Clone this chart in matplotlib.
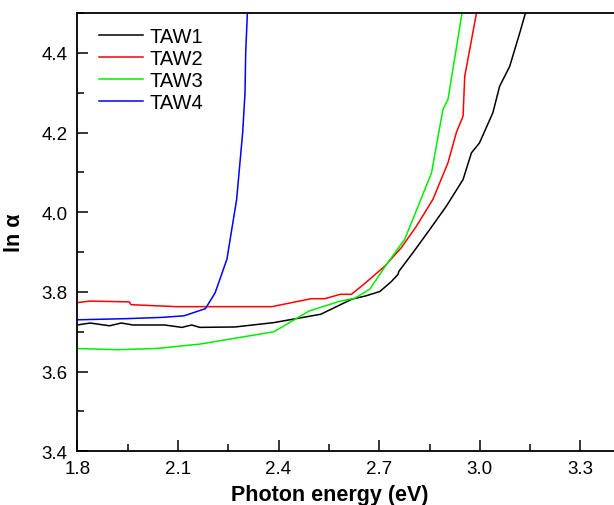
import matplotlib
matplotlib.use('Agg')
import matplotlib.pyplot as plt
from matplotlib.ticker import MultipleLocator

plt.rcParams['font.family'] = ['Liberation Sans', 'DejaVu Sans']

# TAW1 (black)
x1 = [1.80, 1.838, 1.896, 1.931, 1.966, 2.06, 2.112, 2.141, 2.165, 2.27, 2.386, 2.526,
      2.619, 2.66, 2.702, 2.735, 2.756, 2.759, 2.801, 2.851, 2.90, 2.95, 2.975, 2.999,
      3.039, 3.059, 3.089, 3.119, 3.136]
y1 = [3.717, 3.722, 3.715, 3.722, 3.717, 3.717, 3.711, 3.717, 3.711, 3.712, 3.723, 3.744,
      3.782, 3.790, 3.801, 3.825, 3.844, 3.852, 3.899, 3.957, 4.015, 4.082, 4.149, 4.174,
      4.25, 4.316, 4.366, 4.45, 4.50]

# TAW2 (red)
x2 = [1.80, 1.838, 1.955, 1.96, 2.095, 2.38, 2.497, 2.538, 2.584, 2.617, 2.654, 2.717,
      2.766, 2.811, 2.86, 2.905, 2.93, 2.95, 2.955, 2.99]
y2 = [3.773, 3.777, 3.775, 3.768, 3.763, 3.763, 3.783, 3.783, 3.794, 3.794, 3.819, 3.865,
      3.911, 3.965, 4.032, 4.124, 4.20, 4.241, 4.341, 4.50]

# TAW3 (green)
x3 = [1.80, 1.92, 2.036, 2.165, 2.386, 2.491, 2.584, 2.627, 2.672, 2.726, 2.776, 2.816,
      2.856, 2.89, 2.905, 2.947]
y3 = [3.658, 3.655, 3.658, 3.669, 3.700, 3.752, 3.777, 3.784, 3.807, 3.874, 3.932, 4.015,
      4.099, 4.258, 4.283, 4.50]

# TAW4 (blue)
x4 = [1.80, 1.95, 2.05, 2.118, 2.182, 2.211, 2.246, 2.275, 2.293, 2.30, 2.302, 2.307]
y4 = [3.730, 3.733, 3.736, 3.740, 3.758, 3.798, 3.882, 4.032, 4.20, 4.30, 4.40, 4.50]

labels = ['TAW1', 'TAW2', 'TAW3', 'TAW4']
colors = ['black', 'red', '#00ee00', 'blue']

fig = plt.figure(figsize=(6.14, 5.06), dpi=100)
ax = fig.add_axes([77.3 / 614, 53.7 / 506, 1 - 77.3 / 614, 438.3 / 506])

for xs, ys, lab, c in zip([x1, x2, x3, x4], [y1, y2, y3, y4], labels, colors):
    ax.plot(xs, ys, color=c, lw=1.1, label=lab)

ax.set_xlim(1.8, 3.4)
ax.set_ylim(3.4, 4.5)
ax.xaxis.set_major_locator(MultipleLocator(0.3))
ax.xaxis.set_minor_locator(MultipleLocator(0.15))
ax.yaxis.set_major_locator(MultipleLocator(0.2))
ax.yaxis.set_minor_locator(MultipleLocator(0.1))
ax.xaxis.set_major_formatter(matplotlib.ticker.FormatStrFormatter('%.1f'))
ax.yaxis.set_major_formatter(matplotlib.ticker.FormatStrFormatter('%.1f'))

ax.tick_params(which='major', direction='in', length=8, width=1.1, labelsize=13.5,
               top=False, right=False)
ax.tick_params(which='minor', direction='in', length=5, width=1.1, top=False, right=False)
ax.tick_params(axis='x', pad=6)
ax.tick_params(axis='y', pad=7)
ax.spines['right'].set_visible(False)
for s in ['left', 'bottom', 'top']:
    ax.spines[s].set_linewidth(1.3)

ax.set_xlabel('Photon energy (eV)', fontsize=15.5, fontweight='bold')
ax.xaxis.set_label_coords(0.471, -0.099, transform=ax.transAxes)
ax.xaxis.label.set_va('center')
ax.set_ylabel('ln α', fontsize=15.5, fontweight='bold', labelpad=12)

ax.legend(loc='upper left', bbox_to_anchor=(0.04, 0.968), frameon=False,
          borderaxespad=0, borderpad=0, handlelength=2.2, handletextpad=0.3,
          labelspacing=0.15, fontsize=14.5)

plt.savefig('out.png', dpi=100)
